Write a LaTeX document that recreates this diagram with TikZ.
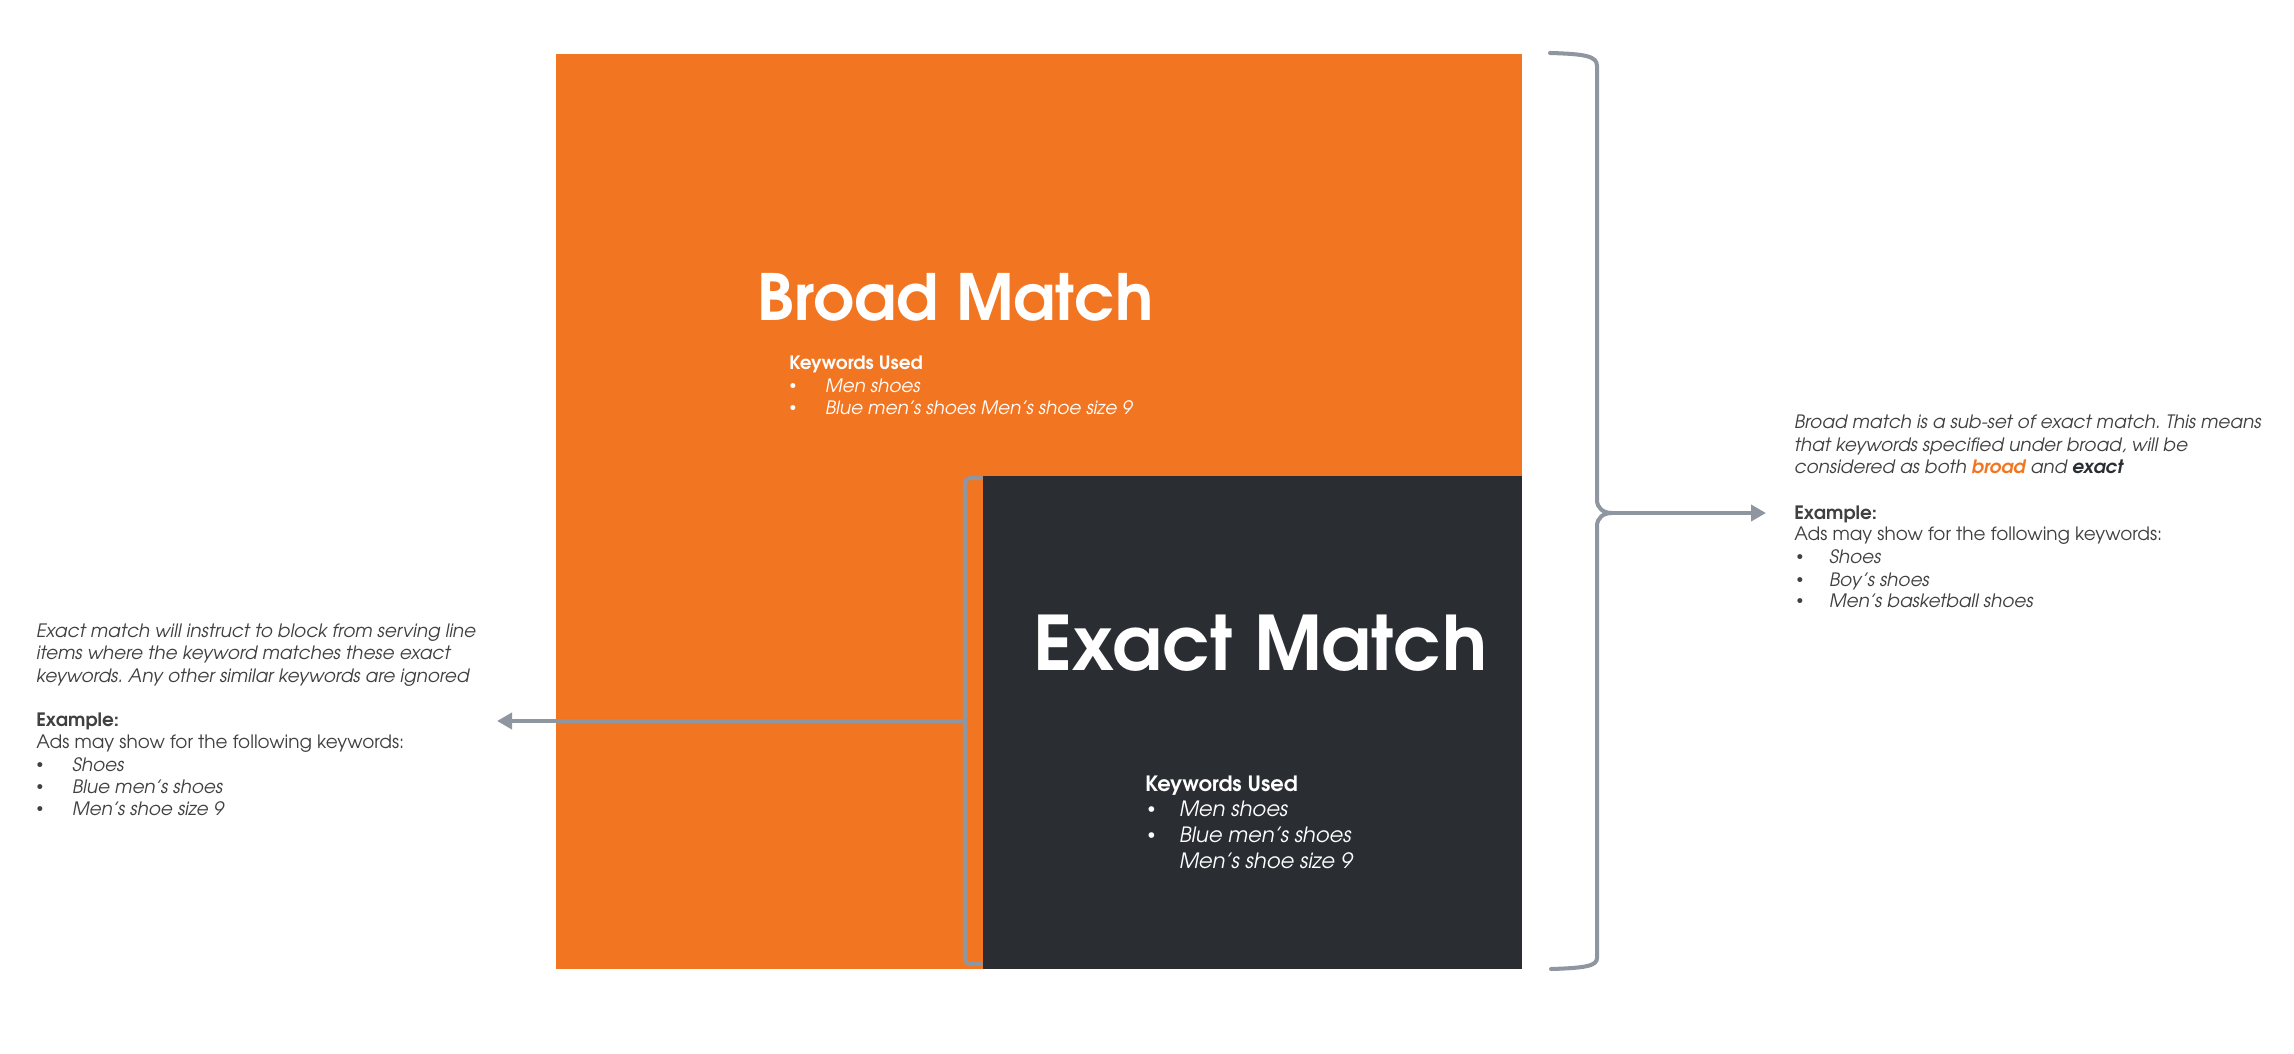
\documentclass[tikz,border=0pt]{standalone}
\usepackage{fontspec}
\setmainfont{texgyreadventor}[Extension=.otf, UprightFont=*-regular, BoldFont=*-bold, ItalicFont=*-italic, BoldItalicFont=*-bolditalic]
\usetikzlibrary{arrows.meta}
\frenchspacing

\definecolor{broadorange}{RGB}{242,118,34}
\definecolor{exactdark}{RGB}{42,45,50}
\definecolor{bracegray}{RGB}{143,150,160}
\definecolor{textgray}{RGB}{64,64,64}

\newcommand{\bodysize}{\fontsize{10.5}{12}\selectfont}
\newcommand{\kwsize}{\fontsize{12}{14}\selectfont}
\newcommand{\dotmark}{\raisebox{0.12em}{\scalebox{0.75}{\textbullet}}}

\tikzset{
  txt/.style={anchor=base west, inner sep=0pt, text=textgray, font=\bodysize},
  wtxt/.style={anchor=base west, inner sep=0pt, text=white},
  brace/.style={draw=bracegray, line width=2.3pt, line cap=round},
  pointer/.style={draw=bracegray, line width=2.3pt, -{Triangle[length=0.3cm,width=0.32cm]}}
}

\begin{document}
\begin{tikzpicture}[x=0.02cm,y=-0.02cm]
    \useasboundingbox (0,0) rectangle (2294,1054);

    % the two match areas
    \fill[broadorange] (556,54) rectangle (1522,969);
    \fill[exactdark] (983,476) rectangle (1522,969);

    % broad match
    \node[wtxt,font=\fontsize{36.3}{40}\selectfont\bfseries] (broadtitle) at (757,320) {Broad Match};
    \node[wtxt,font=\bodysize\bfseries] (broadkw) at (789,369) {Keywords Used};
    \foreach \y/\t [count=\i] in {392/Men shoes, 414/Blue men’s shoes Men’s shoe size 9}{
        \node[wtxt,font=\bodysize] (broadbul\i) at (789,\y) {\dotmark};
        \node[wtxt,font=\bodysize\itshape] (broaditem\i) at (825,\y) {\t};
    }

    % exact match
    \node[wtxt,font=\fontsize{42.8}{46}\selectfont\bfseries] (exacttitle) at (1033,670) {Exact Match};
    \node[wtxt,font=\kwsize\bfseries] (exactkw) at (1145,791) {Keywords Used};
    \node[wtxt,font=\kwsize] (exactbul1) at (1147,816) {\dotmark};
    \node[wtxt,font=\kwsize] (exactbul2) at (1147,842) {\dotmark};
    \foreach \y/\t [count=\i] in {816/Men shoes, 842/Blue men’s shoes, 868/Men's shoe size 9}
        \node[wtxt,font=\kwsize\itshape] (exactitem\i) at (1179,\y) {\t};

    % right note
    \node[txt,font=\bodysize\itshape] (rnote1) at (1794,428) {Broad match is a sub-set of exact match. This means};
    \node[txt,font=\bodysize\itshape] (rnote2) at (1794,451) {that keywords specified under broad, will be};
    \node[txt,font=\bodysize\itshape] (rnote3) at (1794,473) {considered as both \textcolor{broadorange}{\textbf{broad}} and \textcolor{exactdark}{\textbf{exact}}};
    \node[txt,font=\bodysize\bfseries] (rexample) at (1794,519) {Example:};
    \node[txt] (rads) at (1794,540) {Ads may show for the following keywords:};
    \foreach \y/\t [count=\i] in {563/Shoes, 586/Boy’s shoes, 607/Men’s basketball shoes}{
        \node[txt] (rbul\i) at (1796,\y) {\dotmark};
        \node[txt,font=\bodysize\itshape] (ritem\i) at (1829,\y) {\t};
    }

    % left note
    \node[txt,font=\bodysize\itshape] (lnote1) at (36,637) {Exact match will instruct to block from serving line};
    \node[txt,font=\bodysize\itshape] (lnote2) at (36,659) {items where the keyword matches these exact};
    \node[txt,font=\bodysize\itshape] (lnote3) at (36,682) {keywords. Any other similar keywords are ignored};
    \node[txt,font=\bodysize\bfseries] (lexample) at (36,726) {Example:};
    \node[txt] (lads) at (36,748) {Ads may show for the following keywords:};
    \foreach \y/\t [count=\i] in {771/Shoes, 793/Blue men’s shoes, 815/Men's shoe size 9}{
        \node[txt] (lbul\i) at (36,\y) {\dotmark};
        \node[txt,font=\bodysize\itshape] (litem\i) at (72,\y) {\t};
    }

    % braces and pointers
    \coordinate (rtip) at (1612,513);
    \coordinate (rend) at (1766,513);
    \coordinate (ltip) at (965,721);
    \coordinate (lend) at (497,721);

    \draw[brace] (1550,53) .. controls (1585,54) and (1597,56) .. (1597,66) -- (1597,500)
        .. controls (1597,508) and (1603,513) .. (rtip)
        .. controls (1603,513) and (1597,518) .. (1597,526) -- (1597,958)
        .. controls (1597,966) and (1585,968) .. (1551,969);
    \draw[pointer] (rtip) -- (rend);

    \draw[brace,rounded corners=0.1cm] (981,478) -- (965,478) -- (ltip) -- (965,964) -- (981,964);
    \draw[pointer] (ltip) -- (lend);
\end{tikzpicture}
\end{document}
